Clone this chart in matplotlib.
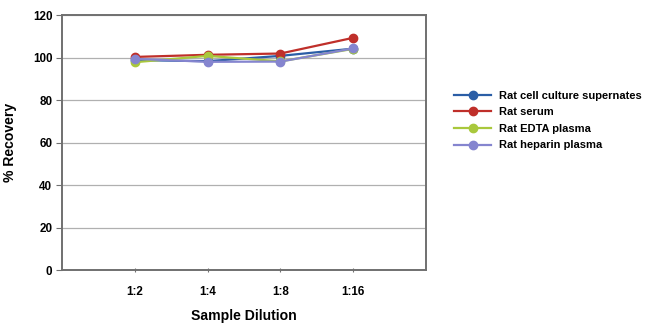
import matplotlib
matplotlib.use("Agg")
from matplotlib import pyplot as plt
from matplotlib import font_manager

# values
dilutions = ["1:2", "1:4", "1:8", "1:16"]
cell_culture = [98.8, 98.3, 100.8, 104.2]
serum = [100.3, 101.3, 101.9, 109.3]
edta_plasma = [97.8, 100.8, 98.2, 104.1]
heparin_plasma = [99.4, 98.0, 98.1, 104.3]

series = [
	("Rat cell culture supernates", cell_culture, "#2b5ea6"),
	("Rat serum", serum, "#bf2f2a"),
	("Rat EDTA plasma", edta_plasma, "#a9c83c"),
	("Rat heparin plasma", heparin_plasma, "#8585cf"),
]

# narrow font if there is one, otherwise plain Liberation Sans
installed = {f.name for f in font_manager.fontManager.ttflist}
narrow = "Liberation Sans Narrow" in installed
plt.rcParams['font.family'] = ['Liberation Sans Narrow' if narrow else 'Liberation Sans', 'DejaVu Sans']
plt.rcParams['font.weight'] = 'bold'
scale = 1.0 if narrow else 0.84

fig = plt.figure(figsize=(6.5, 3.35), dpi=100)
ax = fig.add_axes([0.0954, 0.194, 0.56, 0.761])

xs = list(range(1, len(dilutions) + 1))
for name, vals, col in series:
	ax.plot(xs, vals, color=col, lw=1.6, marker="o", markersize=6,
		markeredgecolor=col, markerfacecolor=col, label=name)

ax.set_xlim(0, 5)
ax.set_ylim(0, 120)
ax.set_yticks(range(0, 121, 20))
ax.set_xticks(xs)
ax.set_xticklabels(dilutions)
ax.yaxis.grid(True, color="#b0b0b0", lw=0.9)
ax.set_axisbelow(True)

for sp in ax.spines.values():
	sp.set_color("#707070")
	sp.set_linewidth(1.4)

ax.tick_params(axis="y", length=4, color="#707070", labelsize=10 * scale, pad=3)
ax.tick_params(axis="x", length=3, direction="inout", color="#707070", labelsize=10 * scale, pad=10)

ax.set_xlabel("Sample Dilution", fontsize=12 * scale, fontweight="bold", labelpad=8)
ax.set_ylabel("% Recovery", fontsize=12 * scale, fontweight="bold", labelpad=10)
ax.yaxis.set_label_coords(-0.125, 0.5)

leg = fig.legend(loc="upper left", bbox_to_anchor=(0.692, 0.743), frameon=False,
	fontsize=9.5 * scale, handlelength=3.3, labelspacing=0.6, handletextpad=0.7,
	borderaxespad=0.0)

fig.savefig("out.png", dpi=100)
